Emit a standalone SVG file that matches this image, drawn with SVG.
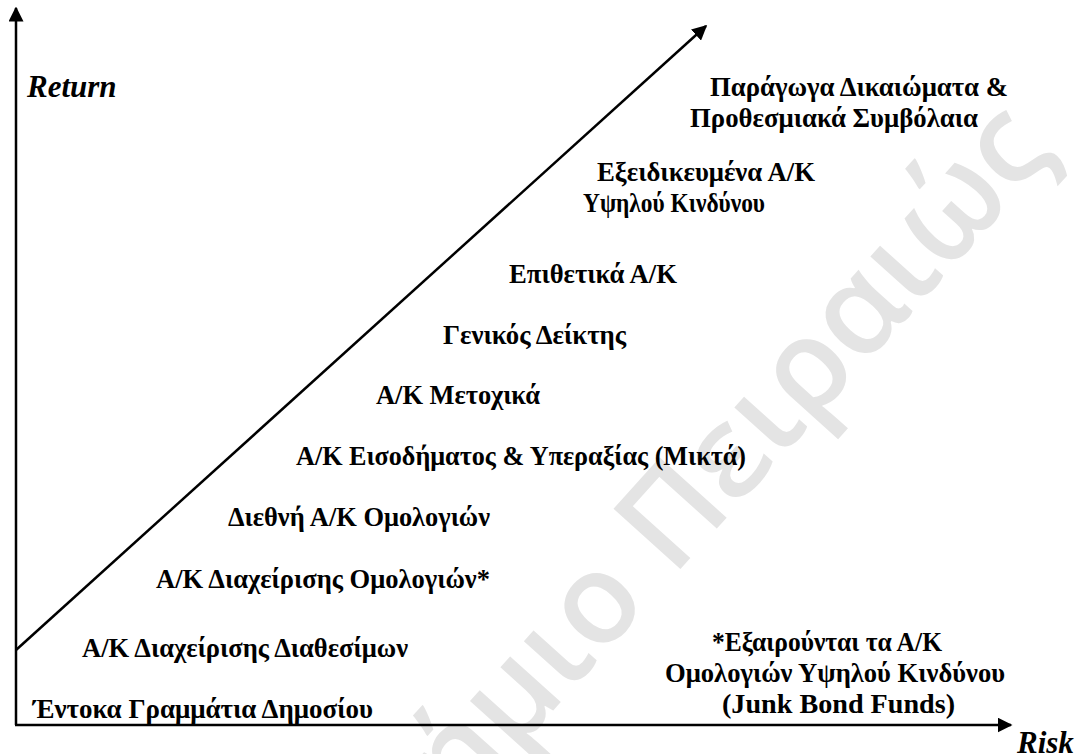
<svg xmlns="http://www.w3.org/2000/svg" width="1078" height="754" viewBox="0 0 1078 754">
  <style>
    .lbl { font-family: "Liberation Serif", "Times New Roman", serif; font-weight: bold; font-size: 27px; fill: #000; }
    .ax { font-family: "Liberation Serif", "Times New Roman", serif; font-weight: bold; font-style: italic; font-size: 31px; fill: #000; }
    .wm { font-family: "Open Sans", "DejaVu Sans", sans-serif; font-weight: 600; font-size: 126px; fill: #e4e4e4; }
    .line { stroke: #000; stroke-width: 2.5; fill: none; }
  </style>
  <defs>
    <marker id="ah" viewBox="0 0 10 10" refX="9" refY="5" markerWidth="6" markerHeight="6" markerUnits="strokeWidth" orient="auto">
      <path d="M0,0 L10,5 L0,10 Z" fill="#000"/>
    </marker>
  </defs>
  <rect width="1078" height="754" fill="#fff"/>
  <g id="watermark">
    <text class="wm" transform="translate(1056,152) rotate(-48)" text-anchor="end">Πανεπιστήμιο Πειραιώς</text>
  </g>
  <g id="connectors">
    <line class="line" x1="16" y1="725" x2="16" y2="8" marker-end="url(#ah)"/>
    <line class="line" x1="15" y1="725" x2="1011" y2="725" marker-end="url(#ah)"/>
    <line class="line" x1="16" y1="650" x2="706" y2="26" marker-end="url(#ah)"/>
  </g>
  <g id="axis-return"><text class="ax" x="27" y="97">Return</text></g>
  <g id="axis-risk"><text class="ax" x="1017" y="753">Risk</text></g>
  <g id="n-derivatives">
    <text class="lbl" x="710" y="96" textLength="298" lengthAdjust="spacingAndGlyphs">Παράγωγα Δικαιώματα &amp;</text>
    <text class="lbl" x="690" y="127" textLength="288" lengthAdjust="spacingAndGlyphs">Προθεσμιακά Συμβόλαια</text>
  </g>
  <g id="n-specialized">
    <text class="lbl" x="597" y="181" textLength="218" lengthAdjust="spacingAndGlyphs">Εξειδικευμένα Α/Κ</text>
    <text class="lbl" x="583" y="212" textLength="182" lengthAdjust="spacingAndGlyphs">Υψηλού Κινδύνου</text>
  </g>
  <g id="n-aggressive"><text class="lbl" x="509" y="283" textLength="168" lengthAdjust="spacingAndGlyphs">Επιθετικά Α/Κ</text></g>
  <g id="n-index"><text class="lbl" x="443" y="344" textLength="183" lengthAdjust="spacingAndGlyphs">Γενικός Δείκτης</text></g>
  <g id="n-equity"><text class="lbl" x="376" y="404" textLength="164" lengthAdjust="spacingAndGlyphs">Α/Κ Μετοχικά</text></g>
  <g id="n-balanced"><text class="lbl" x="296" y="465" textLength="450" lengthAdjust="spacingAndGlyphs">Α/Κ Εισοδήματος &amp; Υπεραξίας (Μικτά)</text></g>
  <g id="n-intl-bonds"><text class="lbl" x="228" y="526" textLength="262" lengthAdjust="spacingAndGlyphs">Διεθνή Α/Κ Ομολογιών</text></g>
  <g id="n-bonds"><text class="lbl" x="156" y="588" textLength="334" lengthAdjust="spacingAndGlyphs">Α/Κ Διαχείρισης Ομολογιών*</text></g>
  <g id="n-money"><text class="lbl" x="82" y="657" textLength="326" lengthAdjust="spacingAndGlyphs">Α/Κ Διαχείρισης Διαθεσίμων</text></g>
  <g id="n-tbills"><text class="lbl" x="33" y="718" textLength="340" lengthAdjust="spacingAndGlyphs">Έντοκα Γραμμάτια Δημοσίου</text></g>
  <g id="n-note">
    <text class="lbl" x="712" y="651" textLength="230" lengthAdjust="spacingAndGlyphs">*Εξαιρούνται τα Α/Κ</text>
    <text class="lbl" x="665" y="682" textLength="340" lengthAdjust="spacingAndGlyphs">Ομολογιών Υψηλού Κινδύνου</text>
    <text class="lbl" x="722" y="713" textLength="233" lengthAdjust="spacingAndGlyphs">(Junk Bond Funds)</text>
  </g>
</svg>
